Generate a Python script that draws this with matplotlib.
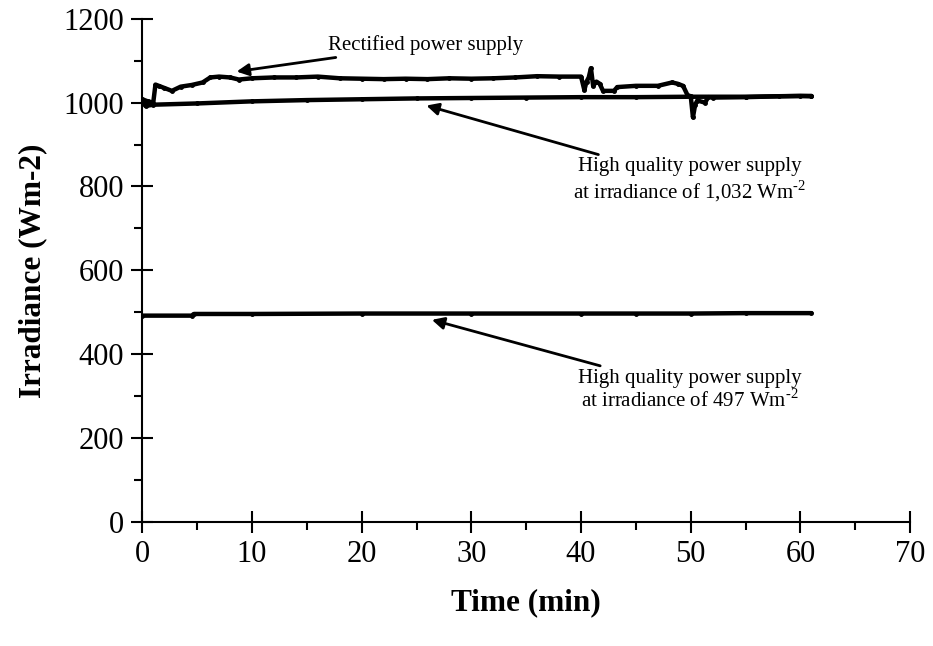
import numpy as np
import matplotlib
matplotlib.use('Agg')
import matplotlib.pyplot as plt

plt.rcParams['font.family'] = ['Liberation Serif', 'DejaVu Serif']
plt.rcParams['mathtext.fontset'] = 'custom'
plt.rcParams['mathtext.rm'] = 'Liberation Serif'

# rectified power supply
rect_t = [0, 0.5, 1.0, 1.2, 1.5, 2.0, 2.7, 3.5, 4.5, 5.5, 6.2, 7.0, 8.0, 8.8, 10,
          12, 14, 16, 18, 20, 22, 24, 26, 28, 30, 32, 34, 36, 38, 40.0, 40.3,
          40.5, 40.7, 40.9, 41.1, 41.4, 41.7, 42.0, 43.0, 43.3, 45, 47, 48.3,
          48.8, 49.3, 49.7, 50.0, 50.2, 50.4, 50.6, 51.3, 51.6, 52, 55, 58, 61]
rect_v = [1008, 1003, 1000, 1043, 1040, 1035, 1028, 1038, 1042, 1048, 1060, 1062,
          1060, 1055, 1058, 1060, 1060, 1062, 1058, 1057, 1056, 1057, 1056, 1058,
          1057, 1058, 1060, 1063, 1062, 1062, 1030, 1050, 1060, 1082, 1040, 1050,
          1045, 1028, 1028, 1037, 1040, 1040, 1048, 1045, 1040, 1018, 1015, 965,
          995, 1005, 1000, 1013, 1012, 1013, 1015, 1016]

# high quality supply, 1,032 Wm-2 setting
hq1_t = [0, 0.3, 1, 5, 10, 15, 20, 25, 30, 35, 40, 45, 50, 55, 60, 61]
hq1_v = [1000, 992, 995, 998, 1003, 1006, 1008, 1010, 1011, 1012, 1013, 1013,
         1014, 1014, 1016, 1015]

# high quality supply, 497 Wm-2 setting
hq2_t = [0, 4.5, 4.7, 10, 20, 30, 40, 45, 50, 55, 61]
hq2_v = [492, 492, 496, 496, 497, 497, 497, 497, 497, 498, 498]

fig = plt.figure(figsize=(9.33, 6.46), dpi=100)
ax = fig.add_axes([0.1525, 0.192, 0.823, 0.779])

for t, v in [(rect_t, rect_v), (hq1_t, hq1_v), (hq2_t, hq2_v)]:
    ax.plot(t, v, color='black', lw=3.2, marker='o', ms=2.5,
            solid_capstyle='round')

ax.set_xlim(0, 70)
ax.set_ylim(0, 1200)
ax.set_xticks(np.arange(0, 71, 10))
ax.set_yticks(np.arange(0, 1201, 200))
ax.set_xticks(np.arange(5, 70, 10), minor=True)
ax.set_yticks(np.arange(100, 1200, 200), minor=True)
ax.tick_params(which='major', direction='inout', length=16, width=1.5,
               labelsize=22, pad=5)
ax.tick_params(which='minor', direction='out', length=6, width=1.5)
ax.spines['top'].set_visible(False)
ax.spines['right'].set_visible(False)
ax.spines['left'].set_linewidth(1.5)
ax.spines['bottom'].set_linewidth(1.5)

ax.set_xlabel('Time (min)', fontsize=22.5, fontweight='bold', labelpad=14)
ax.set_ylabel('Irradiance (Wm-2)', fontsize=22.5, fontweight='bold', labelpad=12)

arrow = dict(arrowstyle='-|>', color='black', lw=2, mutation_scale=18,
             shrinkA=0, shrinkB=0)
ax.annotate('Rectified power supply', xy=(8.6, 1074), xytext=(16.9, 1138),
            fontsize=15, va='center', ha='left', arrowprops=arrow)
ax.annotate('High quality power supply\nat irradiance of 1,032 Wm$^{\\text{-}2}$',
            xy=(25.9, 993), xytext=(49.9, 814), fontsize=15, ha='center',
            va='center', linespacing=1.1, arrowprops=arrow)
ax.annotate('High quality power supply\nat irradiance of 497 Wm$^{\\text{-}2}$',
            xy=(26.4, 482), xytext=(49.9, 314), fontsize=15, ha='center',
            va='center', linespacing=1.1, arrowprops=arrow)

fig.savefig('out.png', dpi=100)
